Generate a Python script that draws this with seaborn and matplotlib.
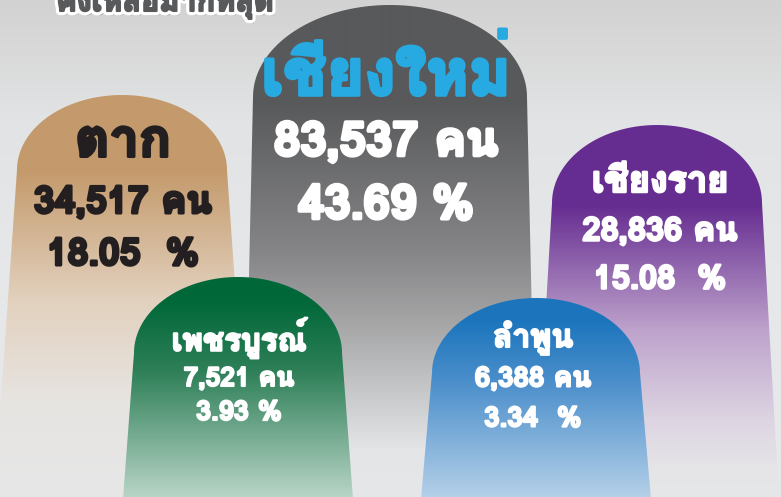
import numpy as np
import matplotlib
matplotlib.use("Agg")
import matplotlib.pyplot as plt
from matplotlib.path import Path
from matplotlib.patches import PathPatch
import matplotlib.patheffects as pe
import matplotlib.colors as mcolors
from matplotlib import font_manager
from matplotlib.ft2font import FT2Font
import seaborn as sns

# ---------------- data ----------------
title = "คงเหลือมากที่สุด"
provinces = ["ตาก", "เชียงใหม่", "เชียงราย", "เพชรบูรณ์", "ลำพูน"]
counts = [34517, 83537, 28836, 7521, 6388]
percents = [18.05, 43.69, 15.08, 3.93, 3.34]
pct_gap = ["  ", " ", "  ", " ", "  "]
unit = "คน"

# ---------------- styling / layout ----------------
sns.set_theme(style="white")

def find_thai_font():
    best = None
    for f in font_manager.fontManager.ttflist:
        try:
            cmap = FT2Font(f.fname).get_charmap()
        except Exception:
            continue
        if 0x0E15 in cmap and 0x0E0A in cmap and 0x0030 in cmap:
            w = f.weight if isinstance(f.weight, int) else (700 if "bold" in str(f.weight).lower() else 400)
            score = -abs(w - 700)
            if best is None or score > best[0]:
                best = (score, f.name)
    return best[1] if best else None

thai = find_thai_font()
families = ([thai] if thai else []) + ["DejaVu Sans"]
plt.rcParams["font.family"] = families

W, H = 781, 497
fig = plt.figure(figsize=(W / 100, H / 100), dpi=100)
ax = fig.add_axes([0, 0, 1, 1])
ax.set_xlim(0, W)
ax.set_ylim(H, 0)
ax.axis("off")

# background gradient
bg = sns.blend_palette(["#D2D2D2", "#E2E3E4", "#E6E7E8"], n_colors=3)
ys = np.arange(H)
def interp_colors(stops, ys):
    pos = np.array([s[0] for s in stops], float)
    cols = np.array([mcolors.to_rgb(s[1]) for s in stops])
    return np.stack([np.interp(ys, pos, cols[:, k]) for k in range(3)], axis=-1)
bg_img = interp_colors([(0, bg[0]), (120, bg[1]), (260, bg[2]), (H, bg[2])], ys)
ax.imshow(bg_img[:, None, :], extent=[0, W, H, 0], aspect="auto", zorder=0)

# shape geometry: center x, top y, dome-end y, half width at dome, half width at bottom
geom = [
    (122, 95, 170, 105, 128),
    (390, 5, 97, 137, 146),
    (657, 125, 203, 105, 122),
    (238, 277, 353, 104, 115),
    (536, 298, 373, 104, 115),
]
grad = [
    [(170, "#C49A6C"), (300, "#E2D1BE"), (400, "#E7E4E1"), (H, "#E6E7E8")],
    [(100, "#58595B"), (250, "#858587"), (330, "#A9A9AA"), (450, "#E4E5E6"), (H, "#E6E7E8")],
    [(205, "#662D91"), (330, "#BEA3CC"), (420, "#DDD5E2"), (470, "#E5E5E8"), (H, "#E6E7E8")],
    [(300, "#006838"), (370, "#2E7F58"), (H, "#B9D5C7")],
    [(320, "#1C75BC"), (380, "#4A8ECB"), (H, "#B5D0E8")],
]

def dome_path(cx, top, de, hw, hwb):
    t = np.linspace(np.pi, 0, 80)
    xs = cx + hw * np.cos(t)
    yv = de - (de - top) * np.sin(t)
    verts = list(zip(xs, yv))
    verts += [(cx + hwb, H + 2), (cx - hwb, H + 2), (xs[0], yv[0])]
    codes = [Path.MOVETO] + [Path.LINETO] * (len(verts) - 2) + [Path.CLOSEPOLY]
    return Path(verts, codes)

for i in range(len(provinces)):
    cx, top, de, hw, hwb = geom[i]
    patch = PathPatch(dome_path(cx, top, de, hw, hwb), facecolor="none",
                      edgecolor="none", zorder=2 + i)
    ax.add_patch(patch)
    img = interp_colors(grad[i], ys)
    im = ax.imshow(img[:, None, :], extent=[cx - hwb - 5, cx + hwb + 5, H, 0],
                   aspect="auto", zorder=2 + i, interpolation="bilinear")
    im.set_clip_path(patch)

# ---------------- text ----------------
txt_style = [
    # name col, value col, name size, count size, pct size, y (name, count, pct), x, stroke
    ("#231F20", "#231F20", 38, 27, 27, (143, 203, 255), 123, 2.2),
    ("#27AAE1", "white", 46, 34, 34, (75, 143, 206), 386, 2.6),
    ("white", "white", 26, 23.5, 23.5, (183, 232, 280), 660, 1.8),
    ("white", "white", 22.5, 19, 19.5, (338, 379, 413), 239, 1.5),
    ("white", "white", 23, 20, 20, (338, 379, 419), 533, 1.5),
]
for i, (name, c, p, gap) in enumerate(zip(provinces, counts, percents, pct_gap)):
    ncol, vcol, ns, vs, ps, (y1, y2, y3), x, sw = txt_style[i]
    z = 20 + i
    for s, y, col, size in [(name, y1, ncol, ns),
                            (f"{c:,} {unit}", y2, vcol, vs),
                            (f"{p:.2f}{gap}%", y3, vcol, ps)]:
        ax.text(x, y, s, color=col, fontsize=size, fontweight="bold",
                ha="center", va="center", zorder=z,
                path_effects=[pe.withStroke(linewidth=sw, foreground=col)])

ax.text(165, 11, title, color="#58595B", fontsize=22, fontweight="bold",
        ha="center", va="baseline", zorder=30,
        path_effects=[pe.withSimplePatchShadow(offset=(2, -3), shadow_rgbFace="#9D9FA2", alpha=0.9),
                      pe.withStroke(linewidth=6, foreground="white"),
                      pe.withStroke(linewidth=1.5, foreground="#58595B")])

fig.savefig("out.png", dpi=100, facecolor="#E6E7E8")
